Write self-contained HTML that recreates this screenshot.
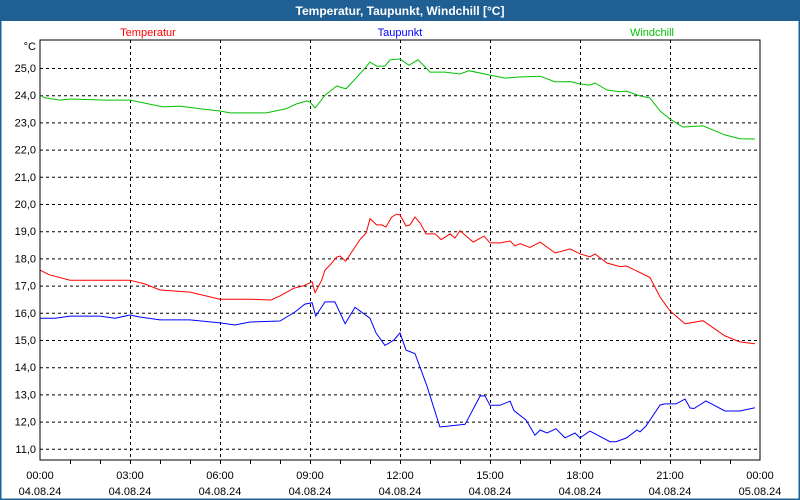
<!DOCTYPE html>
<html><head><meta charset="utf-8"><style>
body{margin:0;background:#fff}
svg{display:block;font-family:"Liberation Sans",sans-serif}
</style></head><body>
<svg id="chart" width="800" height="500" xmlns="http://www.w3.org/2000/svg">
<rect x="0" y="0" width="800" height="500" fill="#ffffff" stroke="#1f5f94" stroke-width="3"/>
<rect x="0" y="0" width="800" height="21" fill="#1f5f94"/>
<text x="400" y="15" fill="#fff" font-size="12" font-weight="bold" text-anchor="middle">Temperatur, Taupunkt, Windchill [°C]</text>
<text x="148" y="36" fill="#ff0000" font-size="11" text-anchor="middle">Temperatur</text>
<text x="400" y="36" fill="#0000ff" font-size="11" text-anchor="middle">Taupunkt</text>
<text x="652" y="36" fill="#00c000" font-size="11" text-anchor="middle">Windchill</text>
<text x="36" y="50" fill="#000" font-size="11" text-anchor="end">°C</text>
<g id="grid"></g>
<g id="series"></g>
<rect x="40" y="40" width="720" height="420" fill="none" stroke="#000" stroke-width="1"/>
<g id="axes"></g>
</svg>
<script>
const yTicks=[11,12,13,14,15,16,17,18,19,20,21,22,23,24,25];
const xTickHours=[0,3,6,9,12,15,18,21,24];
const xTickTimes=["00:00","03:00","06:00","09:00","12:00","15:00","18:00","21:00","00:00"];
const xTickDates=["04.08.24","04.08.24","04.08.24","04.08.24","04.08.24","04.08.24","04.08.24","04.08.24","05.08.24"];
const windT=[0,0.17,0.67,1,2.2,3,4.1,4.67,5.33,6,6.33,7.55,8.2,8.55,8.9,9,9.17,9.5,9.89,10.2,10.72,11,11.22,11.5,11.67,12,12.3,12.6,13,13.5,14,14.3,15,15.5,16,16.67,17.17,17.67,18,18.33,18.5,18.9,19.33,19.55,20,20.33,20.67,21,21.43,22.1,22.83,23.33,23.83];
const windV=[24.0,23.9,23.82,23.86,23.82,23.82,23.57,23.6,23.5,23.42,23.35,23.35,23.5,23.68,23.79,23.75,23.53,24.0,24.34,24.23,24.85,25.22,25.07,25.07,25.3,25.33,25.1,25.3,24.85,24.85,24.78,24.9,24.74,24.63,24.67,24.7,24.49,24.5,24.41,24.37,24.45,24.19,24.13,24.15,23.97,23.9,23.42,23.12,22.83,22.87,22.54,22.4,22.39];
const tempT=[0,0.3,1,3,3.5,4,5,6,7,7.7,8,8.45,8.77,9.07,9.17,9.39,9.5,9.67,9.89,10,10.19,10.67,10.87,11,11.22,11.39,11.53,11.72,11.89,12,12.2,12.33,12.5,12.67,12.87,13.17,13.37,13.67,13.83,14,14.44,14.8,15,15.33,15.67,15.83,16,16.33,16.67,17.17,17.67,18,18.33,18.5,18.9,19.33,19.55,20.33,20.67,21,21.5,22.1,22.83,23.33,23.83];
const tempV=[17.57,17.4,17.2,17.2,17.06,16.84,16.76,16.5,16.5,16.47,16.62,16.9,16.99,17.14,16.74,17.2,17.57,17.76,18.05,18.09,17.9,18.7,18.93,19.46,19.23,19.23,19.15,19.52,19.63,19.6,19.19,19.23,19.52,19.3,18.9,18.9,18.69,18.9,18.75,19.02,18.6,18.82,18.57,18.57,18.64,18.46,18.54,18.4,18.6,18.2,18.35,18.17,18.06,18.16,17.83,17.7,17.72,17.3,16.58,16.07,15.6,15.71,15.15,14.93,14.86];
const dewT=[0,0.5,1,2,2.5,3,3.3,4,5,6,6.5,7,8,8.5,8.83,9.07,9.19,9.5,9.83,10.17,10.5,11,11.2,11.5,11.8,12,12.2,12.5,12.9,13.33,14.17,14.67,14.83,15,15.33,15.67,15.8,16.2,16.5,16.67,16.9,17.2,17.5,17.83,18,18.33,19,19.2,19.55,19.9,20,20.2,20.67,20.83,21.2,21.5,21.67,21.8,22.2,22.83,23.33,23.83];
const dewV=[15.8,15.8,15.88,15.88,15.8,15.92,15.85,15.74,15.74,15.63,15.55,15.66,15.7,16.03,16.32,16.37,15.88,16.4,16.4,15.6,16.2,15.8,15.26,14.8,15.0,15.26,14.63,14.5,13.3,11.8,11.9,12.94,12.95,12.6,12.6,12.75,12.4,12.06,11.5,11.69,11.58,11.74,11.4,11.58,11.4,11.65,11.26,11.26,11.4,11.69,11.62,11.84,12.61,12.65,12.65,12.83,12.5,12.48,12.76,12.39,12.39,12.51];
const NS="http://www.w3.org/2000/svg";
const X0=40,X1=760,Y25=68,PXU=27.2;
function xs(h){return X0+(X1-X0)*h/24;}
function ys(v){return Y25+(25-v)*PXU;}
const grid=document.getElementById('grid'),axes=document.getElementById('axes'),series=document.getElementById('series');
function mk(tag,attrs,parent){const e=document.createElementNS(NS,tag);for(const k in attrs)e.setAttribute(k,attrs[k]);parent.appendChild(e);return e;}
yTicks.forEach(v=>{
  const l=mk('line',{x1:X0,x2:X1,y1:ys(v)+0.5,y2:ys(v)+0.5,stroke:'#000','stroke-dasharray':'3,3','stroke-width':1},grid);
  
  
  const t=mk('text',{x:36,y:ys(v)+4,'font-size':11,'text-anchor':'end',fill:'#000'},axes);
  t.textContent=v.toFixed(1).replace('.',',');
  
  
});
for(let h=1;h<24;h++){
  const tk=mk('line',{x1:xs(h)+0.5,x2:xs(h)+0.5,y1:460,y2:464,stroke:'#000'},axes);
  
  
}
xTickHours.forEach((h,i)=>{
  if(h>0&&h<24){
    const l=mk('line',{x1:xs(h)+0.5,x2:xs(h)+0.5,y1:40,y2:460,stroke:'#000','stroke-dasharray':'3,3'},grid);
    
    
  }
  const t=mk('text',{x:xs(h),y:479,'font-size':11,'text-anchor':'middle',fill:'#000'},axes);
  t.textContent=xTickTimes[i];
  
  
  const d=mk('text',{x:xs(h),y:495,'font-size':11,'text-anchor':'middle',fill:'#000'},axes);
  d.textContent=xTickDates[i];
  
  
});
function line(T,V,color,name){
  const p=mk('polyline',{points:T.map((t,i)=>xs(t).toFixed(1)+','+ys(V[i]).toFixed(1)).join(' '),fill:'none',stroke:color,'stroke-width':1},series);
  
  
}
line(windT,windV,'#00c000','windchill-line');
line(tempT,tempV,'#ff0000','temperatur-line');
line(dewT,dewV,'#0000ff','taupunkt-line');
</script>
</body></html>
